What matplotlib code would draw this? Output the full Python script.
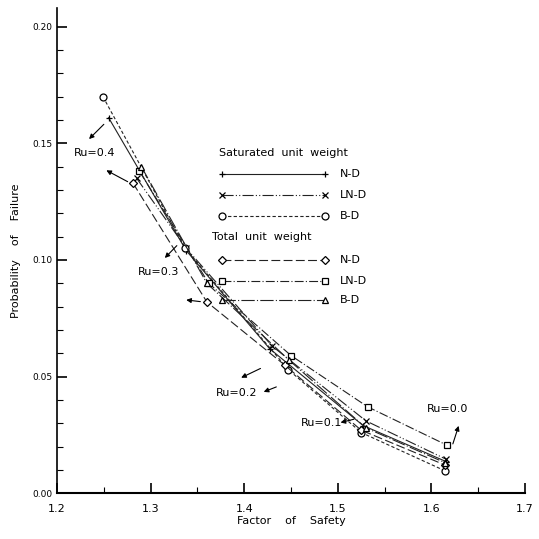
import matplotlib
matplotlib.use("Agg")
import matplotlib.pyplot as plt
from matplotlib.ticker import MultipleLocator

# Ru values for each point along a curve
ru = [0.4, 0.3, 0.2, 0.1, 0.0]

# Saturated unit weight
fs_nd_sat = [1.255, 1.338, 1.427, 1.527, 1.616]
pf_nd_sat = [0.161, 0.104, 0.062, 0.029, 0.0135]
fs_lnd_sat = [1.285, 1.338, 1.430, 1.530, 1.616]
pf_lnd_sat = [0.135, 0.105, 0.063, 0.031, 0.0145]
fs_bd_sat = [1.249, 1.337, 1.447, 1.525, 1.615]
pf_bd_sat = [0.170, 0.105, 0.053, 0.026, 0.0095]

# Total unit weight
fs_nd_tot = [1.281, 1.360, 1.443, 1.525, 1.615]
pf_nd_tot = [0.133, 0.082, 0.055, 0.027, 0.012]
fs_lnd_tot = [1.288, 1.362, 1.450, 1.532, 1.617]
pf_lnd_tot = [0.138, 0.090, 0.059, 0.037, 0.0205]
fs_bd_tot = [1.290, 1.360, 1.448, 1.530, 1.615]
pf_bd_tot = [0.140, 0.090, 0.057, 0.028, 0.013]

fig = plt.figure(figsize=(5.39, 5.39), dpi=100)
ax = fig.add_axes([0.106, 0.085, 0.868, 0.90])

series = [
    (fs_nd_sat, pf_nd_sat, "-", "+", "k", 5),
    (fs_lnd_sat, pf_lnd_sat, (0, (10, 2, 1, 2, 1, 2)), "x", "k", 4),
    (fs_bd_sat, pf_bd_sat, (0, (3, 2)), "o", "white", 5),
    (fs_nd_tot, pf_nd_tot, (0, (8, 3)), "D", "white", 4),
    (fs_lnd_tot, pf_lnd_tot, (0, (8, 2, 1, 2)), "s", "white", 4),
    (fs_bd_tot, pf_bd_tot, (0, (12, 2, 1, 2)), "^", "white", 4),
]
for fs, pf, ls, mk, mfc, ms in series:
    ax.plot(fs, pf, linestyle=ls, color="#222222", lw=0.8, marker=mk,
            markerfacecolor=mfc, markeredgecolor="k", markersize=ms, mew=0.9)

# hand-drawn legend inside the plot
leg_x0, leg_x1, leg_tx = 1.376, 1.486, 1.502
ax.text(1.373, 0.146, "Saturated  unit  weight", fontsize=8, va="center")
legend_rows = [
    (0.137, "N-D", 0), (0.128, "LN-D", 1), (0.119, "B-D", 2),
    (0.100, "N-D", 3), (0.091, "LN-D", 4), (0.083, "B-D", 5),
]
for y, lab, i in legend_rows:
    _, _, ls, mk, mfc, ms = series[i]
    ax.plot([leg_x0, leg_x1], [y, y], linestyle=ls, color="#222222", lw=0.8,
            marker=mk, markerfacecolor=mfc, markeredgecolor="k",
            markersize=ms, mew=0.9)
    ax.text(leg_tx, y, lab, fontsize=8, va="center")
ax.text(1.366, 0.110, "Total  unit  weight", fontsize=8, va="center")

# Ru annotations
arrow = dict(arrowstyle="-|>", color="k", lw=0.8, mutation_scale=7)
fsz = 8
ax.text(1.240, 0.146, "Ru=0.4", fontsize=fsz, ha="center", va="center")
ax.annotate("", xy=(1.232, 0.151), xytext=(1.252, 0.159), arrowprops=arrow)
ax.annotate("", xy=(1.250, 0.139), xytext=(1.278, 0.133), arrowprops=arrow)
ax.text(1.308, 0.095, "Ru=0.3", fontsize=fsz, ha="center", va="center")
ax.annotate("", xy=(1.313, 0.100), xytext=(1.330, 0.107), arrowprops=arrow)
ax.annotate("", xy=(1.335, 0.083), xytext=(1.356, 0.082), arrowprops=arrow)
ax.text(1.392, 0.043, "Ru=0.2", fontsize=fsz, ha="center", va="center")
ax.annotate("", xy=(1.394, 0.049), xytext=(1.420, 0.054), arrowprops=arrow)
ax.annotate("", xy=(1.418, 0.043), xytext=(1.437, 0.046), arrowprops=arrow)
ax.text(1.483, 0.030, "Ru=0.1", fontsize=fsz, ha="center", va="center")
ax.annotate("", xy=(1.500, 0.030), xytext=(1.520, 0.032), arrowprops=arrow)
ax.text(1.617, 0.036, "Ru=0.0", fontsize=fsz, ha="center", va="center")
ax.annotate("", xy=(1.630, 0.030), xytext=(1.622, 0.020), arrowprops=arrow)

ax.set_xlim(1.2, 1.7)
ax.set_ylim(0, 0.208)
ax.xaxis.set_major_locator(MultipleLocator(0.1))
ax.xaxis.set_minor_locator(MultipleLocator(0.05))
ax.yaxis.set_major_locator(MultipleLocator(0.05))
ax.yaxis.set_minor_locator(MultipleLocator(0.01))
ax.set_xticks([1.2, 1.3, 1.4, 1.5, 1.6, 1.7])
ax.set_xticklabels(["1.2", "1.3", "1.4", "1.5", "1.6", "1.7"], fontsize=8)
ax.set_yticks([0.0, 0.05, 0.10, 0.15, 0.20])
ax.set_yticklabels(["0.00", "0.05", "0.10", "0.15", "0.20"], fontsize=6.5)
ax.tick_params(which="major", direction="in", length=7, width=1.2)
ax.tick_params(which="minor", direction="in", length=4, width=0.8)
ax.tick_params(axis="x", pad=8)
ax.spines["top"].set_visible(False)
ax.spines["right"].set_visible(False)
ax.spines["left"].set_linewidth(1.2)
ax.spines["bottom"].set_linewidth(1.5)

ax.set_xlabel("Factor    of    Safety", fontsize=8, labelpad=1)
ax.set_ylabel("Probability    of    Failure", fontsize=8, labelpad=8)

fig.savefig("out.png", dpi=100)
